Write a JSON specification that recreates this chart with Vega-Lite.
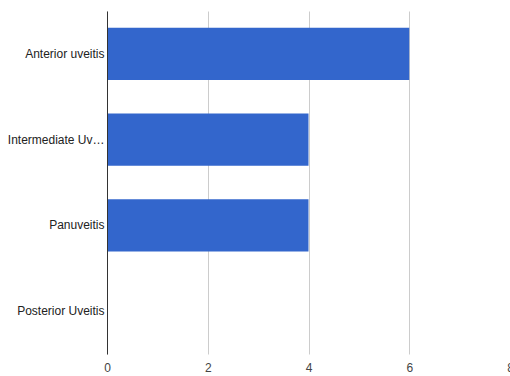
{
  "$schema": "https://vega.github.io/schema/vega-lite/v6.json",
  "width": 403,
  "height": 343,
  "autosize": {"type": "none"},
  "padding": {"left": 107, "top": 11, "right": 0, "bottom": 22},
  "background": "white",
  "data": {
    "values": [
      {"type": "Anterior uveitis", "count": 6},
      {"type": "Intermediate Uveitis", "count": 4},
      {"type": "Panuveitis", "count": 4},
      {"type": "Posterior Uveitis", "count": 0}
    ]
  },
  "mark": {"type": "bar", "color": "#3366cc", "clip": false},
  "encoding": {
    "y": {
      "field": "type",
      "type": "nominal",
      "sort": null,
      "scale": {"paddingInner": 0.39, "paddingOuter": 0.195},
      "axis": {
        "title": null,
        "ticks": false,
        "domain": true,
        "domainColor": "#333333",
        "domainWidth": 1,
        "labelFont": "Liberation Sans",
        "labelFontSize": 12,
        "labelColor": "#222222",
        "labelPadding": 3,
        "labelLimit": 97,
        "zindex": 1
      }
    },
    "x": {
      "field": "count",
      "type": "quantitative",
      "scale": {"domain": [0, 8], "nice": false},
      "axis": {
        "title": null,
        "values": [0, 2, 4, 6, 8],
        "ticks": false,
        "domain": false,
        "grid": true,
        "gridColor": "#cccccc",
        "labelFont": "Liberation Sans",
        "labelFontSize": 12,
        "labelColor": "#444444",
        "labelPadding": 8,
        "labelFlush": false,
        "labelOverlap": false
      }
    }
  },
  "config": {"view": {"stroke": null}}
}
